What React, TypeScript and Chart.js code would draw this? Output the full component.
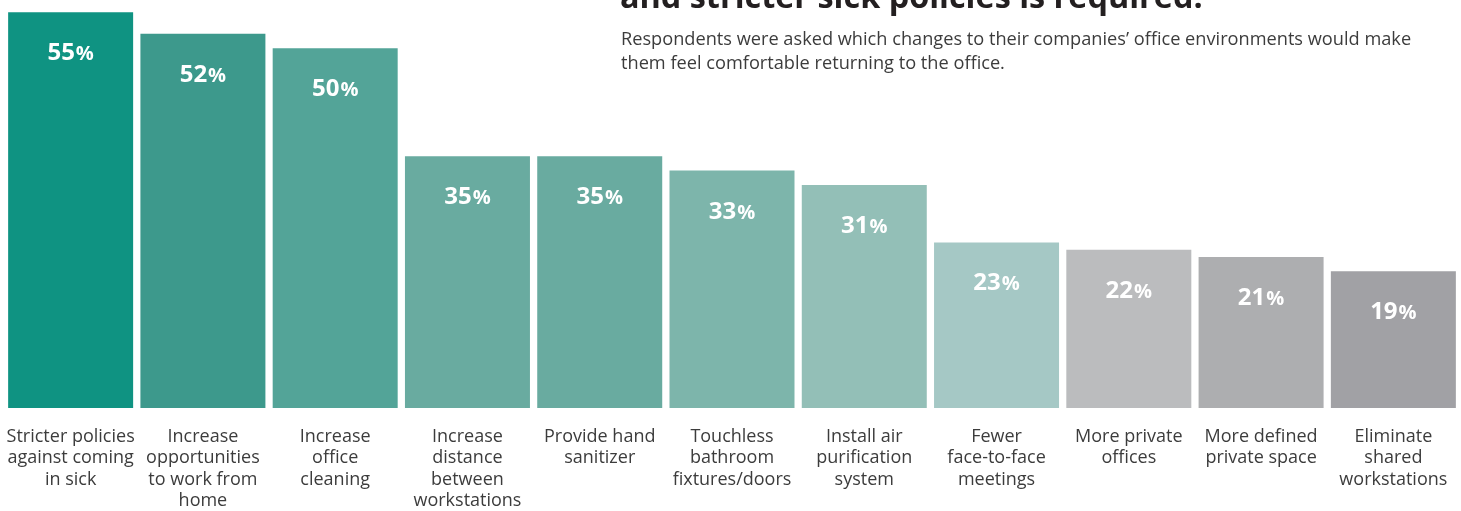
import React, { useEffect, useRef } from "react";
import { Chart, registerables } from "chart.js";

Chart.register(...registerables);

const categories: string[][] = [
  ["Stricter policies", "against coming", "in sick"],
  ["Increase", "opportunities", "to work from", "home"],
  ["Increase", "office", "cleaning"],
  ["Increase", "distance", "between", "workstations"],
  ["Provide hand", "sanitizer"],
  ["Touchless", "bathroom", "fixtures/doors"],
  ["Install air", "purification", "system"],
  ["Fewer", "face-to-face", "meetings"],
  ["More private", "offices"],
  ["More defined", "private space"],
  ["Eliminate", "shared", "workstations"],
];

const values: number[] = [55, 52, 50, 35, 35, 33, 31, 23, 22, 21, 19];

const barColors: string[] = [
  "#0f9382",
  "#3d998c",
  "#53a498",
  "#69aba0",
  "#69aba0",
  "#7db5ab",
  "#93bfb7",
  "#a5c8c5",
  "#bbbcbe",
  "#adaeb0",
  "#a1a1a5",
];

const titleText = "and stricter sick policies is required.";
const subtitleLines: string[] = [
  "Respondents were asked which changes to their companies\u2019 office environments would make",
  "them feel comfortable returning to the office.",
];

const valueLabelPlugin = {
  id: "valueLabels",
  afterDatasetsDraw(chart: any) {
    const ctx = chart.ctx;
    const meta = chart.getDatasetMeta(0);
    ctx.save();
    ctx.fillStyle = "#ffffff";
    ctx.textBaseline = "alphabetic";
    meta.data.forEach((bar: any, i: number) => {
      const num = String(values[i]);
      const numFont = "bold 24px 'Open Sans', 'Noto Sans', sans-serif";
      const pctFont = "bold 20px 'Open Sans', 'Noto Sans', sans-serif";
      ctx.font = numFont;
      const wNum = ctx.measureText(num).width;
      ctx.font = pctFont;
      const wPct = ctx.measureText("%").width;
      const total = wNum + wPct + 1;
      const x0 = bar.x - total / 2;
      const baseY = bar.y + 48;
      ctx.font = numFont;
      ctx.textAlign = "left";
      ctx.fillText(num, x0, baseY);
      ctx.font = pctFont;
      ctx.fillText("%", x0 + wNum + 1, baseY);
    });
    ctx.restore();
  },
};

export default function App() {
  const canvasRef = useRef<HTMLCanvasElement | null>(null);

  useEffect(() => {
    if (!canvasRef.current) return;
    const chart = new Chart(canvasRef.current, {
      type: "bar",
      data: {
        labels: categories,
        datasets: [
          {
            data: values,
            backgroundColor: barColors,
            borderWidth: 0,
            barPercentage: 0.945,
            categoryPercentage: 1,
          },
        ],
      },
      options: {
        animation: false,
        responsive: true,
        maintainAspectRatio: false,
        layout: { padding: { left: 4.5, right: 1.5, top: 0, bottom: 0 } },
        plugins: {
          legend: { display: false },
          tooltip: { enabled: false },
          title: { display: false },
        },
        scales: {
          x: {
            grid: { display: false, drawTicks: false },
            border: { display: false },
            ticks: {
              color: "#3c3c3c",
              font: { family: "'Open Sans', 'Noto Sans', sans-serif", size: 18, lineHeight: 1.19 },
              padding: 18,
              maxRotation: 0,
              minRotation: 0,
              autoSkip: false,
            },
            afterFit(scale: any) {
              scale.height = 103;
              scale.paddingLeft = 0;
              scale.paddingRight = 0;
            },
          },
          y: {
            display: false,
            min: 0,
            max: 56.7,
          },
        },
      },
      plugins: [valueLabelPlugin],
    });
    return () => chart.destroy();
  }, []);

  return (
    <div
      style={{
        position: "absolute",
        left: 0,
        top: 0,
        width: 1461,
        height: 511,
        overflow: "hidden",
        background: "#ffffff",
      }}
    >
      <canvas ref={canvasRef} style={{ position: "absolute", left: 0, top: 0 }} />
      <div
        style={{
          position: "absolute",
          left: 620,
          top: -26,
          fontFamily: "'Open Sans', 'Noto Sans', sans-serif",
          fontWeight: 700,
          fontSize: 32.4,
          lineHeight: "42px",
          color: "#231f20",
          whiteSpace: "nowrap",
        }}
      >
        {titleText}
      </div>
      <div
        style={{
          position: "absolute",
          left: 621,
          top: 26,
          fontFamily: "'Open Sans', 'Noto Sans', sans-serif",
          fontSize: 18.2,
          lineHeight: "24px",
          color: "#3c3c3c",
          whiteSpace: "nowrap",
        }}
      >
        {subtitleLines.map((l, i) => (
          <div key={i}>{l}</div>
        ))}
      </div>
    </div>
  );
}
